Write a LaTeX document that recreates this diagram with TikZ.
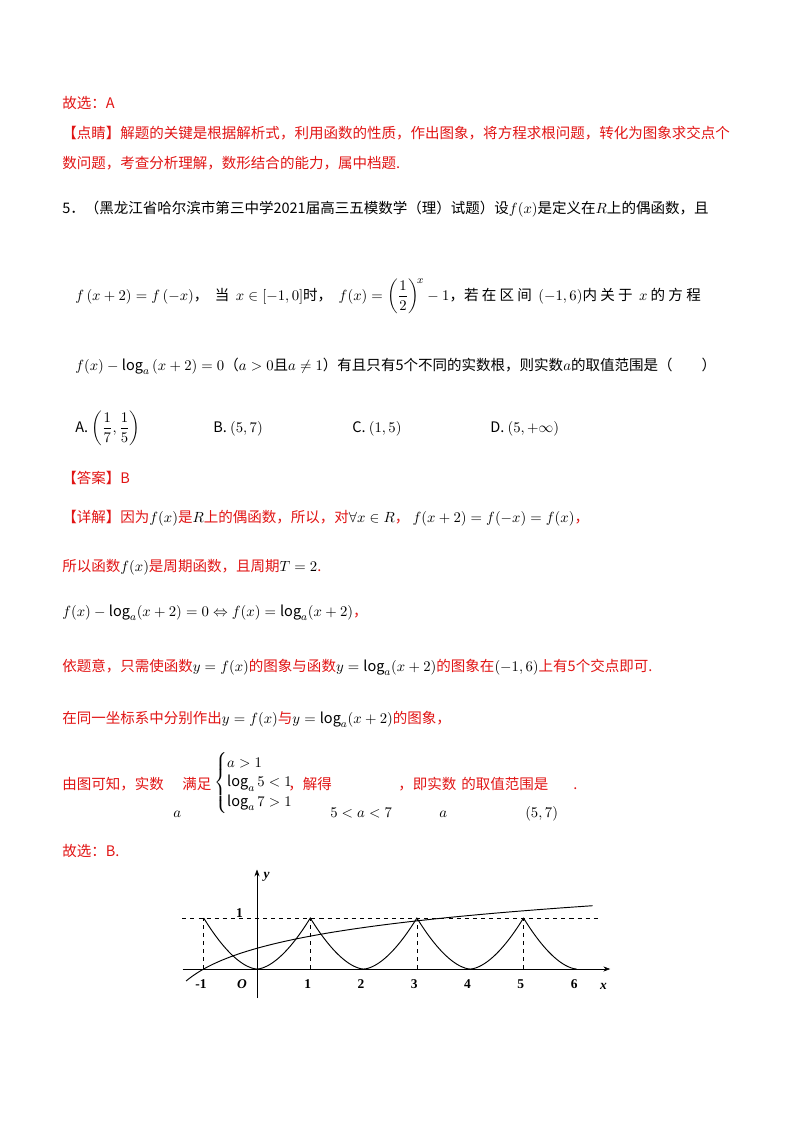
\documentclass[tikz,border=0pt]{standalone}
\usepackage{amsmath,amssymb}
\usepackage{fontspec}
\usetikzlibrary{arrows.meta}
\setmainfont{Noto Sans CJK SC}
\newfontfamily\tnr{Liberation Serif}
\definecolor{rd}{RGB}{225,20,20}
\tikzset{t/.style={anchor=base west,inner sep=0pt,font=\fontsize{10.8}{12}\selectfont},
 lab/.style={font=\tnr\bfseries\fontsize{10}{11}\selectfont,inner sep=0pt}}
\begin{document}
\begin{tikzpicture}[x=0.744pt,y=-0.744pt]
\useasboundingbox (0,0) rectangle (800,1132);
\node[t,rd] (l1) at (62,108) {故选：A};
\node[t,rd] (l2) at (62,138) {【点睛】解题的关键是根据解析式，利用函数的性质，作出图象，将方程求根问题，转化为图象求交点个};
\node[t,rd] (l3) at (62,168) {数问题，考查分析理解，数形结合的能力，属中档题.};
\node[t] (l4) at (62,213) {5．（黑龙江省哈尔滨市第三中学2021届高三五模数学（理）试题）设$f(x)$是定义在$R$上的偶函数，且};
\node[t] (l5a) at (75,300) {$f\left(x+2\right)=f\left(-x\right)$，\ \ 当\ \ $x\in\left[-1,0\right]$时，\ \ $f(x)=\left(\dfrac12\right)^{\!x}-1$，若\ 在\ 区\ 间\ \ $\left(-1,6\right)$内\ 关\ 于\ \ $x$\ 的\ 方\ 程};
\node[t] (l6) at (75,370) {$f(x)-\log_a\left(x+2\right)=0$（$a>0$且$a\ne1$）有且只有5个不同的实数根，则实数$a$的取值范围是（\qquad）};
\node[t] (oA) at (75,432) {A.\ $\left(\dfrac17,\dfrac15\right)$};
\node[t] (oB) at (213,432) {B.\ $(5,7)$};
\node[t] (oC) at (352,432) {C.\ $\left(1,5\right)$};
\node[t] (oD) at (490,432) {D.\ $\left(5,+\infty\right)$};
\node[t,rd] (ans) at (62,483) {【答案】B};
\node[t,rd] (d1) at (62,522) {【详解】因为\textcolor{black}{$f(x)$}是\textcolor{black}{$R$}上的偶函数，所以，对\textcolor{black}{$\forall x\in R$}，\ \textcolor{black}{$f(x+2)=f(-x)=f(x)$}，};
\node[t,rd] (d2) at (62,571) {所以函数\textcolor{black}{$f(x)$}是周期函数，且周期\textcolor{black}{$T=2$}.};
\node[t,rd] (d3) at (62,616) {\textcolor{black}{$f(x)-\log_a(x+2)=0\Leftrightarrow f(x)=\log_a(x+2)$}，};
\node[t,rd] (d4) at (62,671) {依题意，只需使函数\textcolor{black}{$y=f(x)$}的图象与函数\textcolor{black}{$y=\log_a(x+2)$}的图象在\textcolor{black}{$(-1,6)$}上有5个交点即可.};
\node[t,rd] (d5) at (62,723) {在同一坐标系中分别作出\textcolor{black}{$y=f(x)$}与\textcolor{black}{$y=\log_a(x+2)$}的图象，};
\node[t,rd] (d6) at (62,789) {由图可知，实数};
\node[t,rd] (d7) at (182,789) {满足};
\node[t,anchor=west] (cs) at (214,783) {$\begin{cases}a>1\\ \log_a 5<1\\ \log_a 7>1\end{cases}$};
\node[t,rd] (d8) at (288,789) {，解得};
\node[t,rd] (d9) at (398,789) {，即实数};
\node[t,rd] (d10) at (461,789) {的取值范围是};
\node[t,rd] (d11) at (573,789) {.};
\node[t] (m1) at (173,817) {$a$};
\node[t] (m2) at (330,817) {$5<a<7$};
\node[t] (m3) at (439,817) {$a$};
\node[t] (m4) at (525,817) {$(5,7)$};
\node[t,rd] (d12) at (62,856) {故选：B.};
\begin{scope}[shift={(257,969)},xscale=53.3,yscale=-51]
\coordinate (xa0) at (-1.4,0); \coordinate (xa1) at (6.65,0);
\coordinate (ya0) at (0,-0.57); \coordinate (ya1) at (0,1.95);
\draw[-{Stealth[length=5pt]}] (xa0) -- (xa1);
\draw[-{Stealth[length=5pt]}] (ya0) -- (ya1);
\draw[dashed] (-1.4,1) -- (6.45,1);
\foreach \k in {-1,1,3,5} \draw[dashed] (\k,0) -- (\k,1);
\draw[line width=0.7pt] plot[domain=-1:6,samples=281] (\x,{abs(\x-2*round(\x/2))^1.7});
\draw[line width=0.7pt] plot[domain=-1.33:6.3,samples=150] (\x,{ln(\x+2)/ln(5.5)});
\node[lab] (ly) at (0.18,1.8) {\itshape y};
\node[lab] (lx) at (6.5,-0.35) {\itshape x};
\node[lab] (l1y) at (-0.33,1.1) {1};
\node[lab] (lO) at (-0.28,-0.3) {\itshape O};
\node[lab] (lm1) at (-1.05,-0.3) {-1};
\foreach \k in {1,...,6} \node[lab] (lk\k) at (\k-0.05,-0.3) {\k};
\end{scope}
\end{tikzpicture}
\end{document}
